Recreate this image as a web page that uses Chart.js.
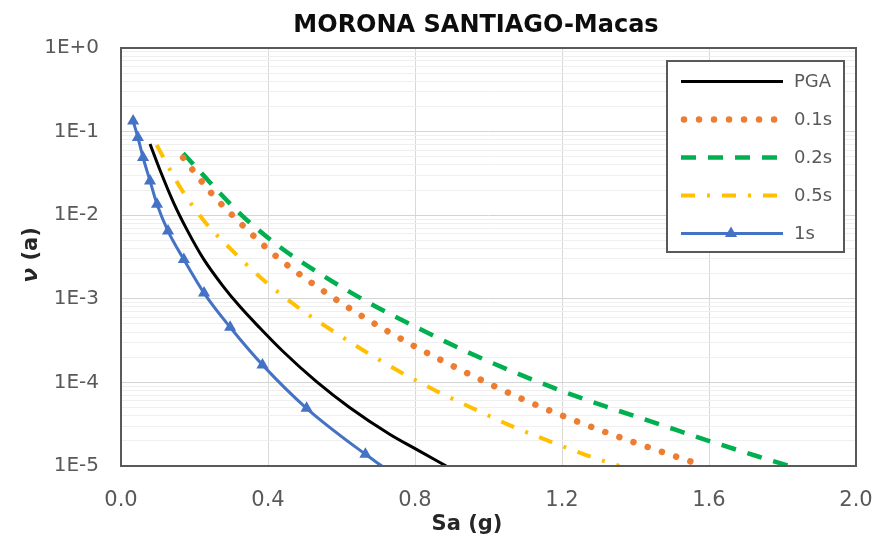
<!DOCTYPE html>
<html>
<head>
<meta charset="utf-8">
<script src="https://cdn.jsdelivr.net/npm/chart.js@4.4.1/dist/chart.umd.min.js"></script>
<style>
html,body{margin:0;padding:0;background:#fff}
</style>
</head>
<body>
<canvas class="myChart" width="876" height="539"></canvas>
<script>
const TITLE = 'MORONA SANTIAGO-Macas'
const xTicks = [0, 0.4, 0.8, 1.2, 1.6, 2.0]
const yDecades = [1e-5, 1e-4, 1e-3, 1e-2, 1e-1, 1]
const yTickLabels = ['1E-5', '1E-4', '1E-3', '1E-2', '1E-1', '1E+0']
const seriesNames = ['PGA', '0.1s', '0.2s', '0.5s', '1s']

// Sa (g) / annual rate
const pgaSa = [0.079, 0.106, 0.142, 0.179, 0.224, 0.278, 0.323, 0.378, 0.441, 0.532, 0.622, 0.731, 0.804, 0.885]
const pgaRate = [0.071, 0.0347, 0.01445, 0.00676, 0.00302, 0.00141, 0.000813, 0.000447, 0.000234, 0.000102, 5.01e-5, 2.4e-5, 1.58e-5, 1e-5]

const t01Sa = [0.169, 0.246, 0.331, 0.419, 0.518, 0.654, 0.794, 0.939, 1.086, 1.236, 1.389, 1.543, 1.587]
const t01Rate = [0.0487, 0.0183, 0.00757, 0.00331, 0.00156, 0.000628, 0.000278, 0.000131, 6.5e-5, 3.48e-5, 1.97e-5, 1.16e-5, 1e-5]

const t02Sa = [0.169, 0.328, 0.437, 0.554, 0.677, 0.804, 0.930, 1.062, 1.193, 1.329, 1.465, 1.601, 1.736, 1.818]
const t02Rate = [0.055, 0.01005, 0.00402, 0.00184, 0.000883, 0.000456, 0.000245, 0.000137, 8.1e-5, 4.98e-5, 3.15e-5, 1.99e-5, 1.29e-5, 1e-5]

const t05Sa = [0.097, 0.160, 0.224, 0.301, 0.382, 0.473, 0.563, 0.658, 0.754, 0.858, 0.954, 1.052, 1.157, 1.264, 1.356]
const t05Rate = [0.069, 0.0219, 0.00877, 0.00384, 0.00176, 0.000843, 0.000451, 0.000244, 0.000138, 7.9e-5, 4.98e-5, 3.15e-5, 2.05e-5, 1.36e-5, 1e-5]

const t1Sa = [0.033, 0.046, 0.060, 0.079, 0.098, 0.128, 0.171, 0.226, 0.297, 0.385, 0.505, 0.665, 0.71]
const t1Rate = [0.134, 0.085, 0.049, 0.0257, 0.0135, 0.00646, 0.00295, 0.00117, 0.000457, 0.000162, 4.9e-5, 1.38e-5, 1e-5]

const toPoints = (xs, ys) => xs.map((x, i) => ({x: x, y: ys[i]}))

const isDecade = (v) => yDecades.some(d => Math.abs(d - v) / d < 1e-6)

// all log gridlines: decades plus 2..9 inside each decade
const yGridValues = []
yDecades.forEach((d, i) => {
    yGridValues.push(d)
    if (i < yDecades.length - 1) {
        for (let k = 2; k <= 9; k++) yGridValues.push(d * k)
    }
})

const FONT = "'DejaVu Sans', sans-serif"
const GREY = '#595959'

const titlesPlugin = {
    id: 'titles',
    afterDraw(chart) {
        const ctx = chart.ctx
        ctx.save()
        ctx.fillStyle = '#0d0d0d'
        ctx.font = "bold 24px " + FONT
        ctx.textAlign = 'center'
        ctx.textBaseline = 'alphabetic'
        ctx.fillText(TITLE, 476, 32)

        ctx.fillStyle = '#262626'
        ctx.font = "bold 21px " + FONT
        ctx.fillText('Sa (g)', 467, 530)

        // y title, rotated, nu in italic
        ctx.translate(37, 255)
        ctx.rotate(-Math.PI / 2)
        ctx.textAlign = 'left'
        const nu = 'ν'
        const rest = ' (a)'
        ctx.font = "italic bold 22px " + FONT
        const w1 = ctx.measureText(nu).width
        ctx.font = "bold 21px " + FONT
        const w2 = ctx.measureText(rest).width
        const start = -(w1 + w2) / 2
        ctx.font = "italic bold 22px " + FONT
        ctx.fillText(nu, start, 0)
        ctx.font = "bold 21px " + FONT
        ctx.fillText(rest, start + w1, 0)
        ctx.restore()
    }
}

const framePlugin = {
    id: 'frame',
    afterDatasetsDraw(chart) {
        const a = chart.chartArea
        const ctx = chart.ctx
        ctx.save()
        ctx.strokeStyle = GREY
        ctx.lineWidth = 2
        ctx.strokeRect(a.left, a.top, a.right - a.left, a.bottom - a.top)
        ctx.restore()
    }
}

const legendPlugin = {
    id: 'boxLegend',
    afterDraw(chart) {
        const ctx = chart.ctx
        const left = 667, top = 61, right = 844, bottom = 252
        ctx.save()
        ctx.fillStyle = '#fff'
        ctx.fillRect(left, top, right - left, bottom - top)
        ctx.strokeStyle = GREY
        ctx.lineWidth = 2
        ctx.strokeRect(left, top, right - left, bottom - top)
        chart.data.datasets.forEach((ds, i) => {
            const y = 81.5 + i * 38
            ctx.save()
            ctx.strokeStyle = ds.borderColor
            ctx.lineWidth = ds.borderWidth
            ctx.lineCap = ds.borderCapStyle || 'butt'
            ctx.setLineDash(ds.borderDash || [])
            ctx.beginPath()
            ctx.moveTo(ds.legendStart || 681, y)
            ctx.lineTo(783, y)
            ctx.stroke()
            ctx.restore()
            if (ds.pointStyle === 'triangle') {
                const cx = 731, r = 7
                ctx.fillStyle = ds.borderColor
                ctx.beginPath()
                ctx.moveTo(cx, y - r)
                ctx.lineTo(cx + r * 0.866, y + r * 0.5)
                ctx.lineTo(cx - r * 0.866, y + r * 0.5)
                ctx.closePath()
                ctx.fill()
            }
            ctx.fillStyle = GREY
            ctx.font = "18px " + FONT
            ctx.textAlign = 'left'
            ctx.textBaseline = 'middle'
            ctx.fillText(ds.label, 794, y + 1)
        })
        ctx.restore()
    }
}

const datasets = [
    {
        label: seriesNames[0],
        data: toPoints(pgaSa, pgaRate),
        borderColor: '#000000',
        borderWidth: 3,
        pointRadius: 0
    },
    {
        label: seriesNames[1],
        data: toPoints(t01Sa, t01Rate),
        borderColor: '#ED7D31',
        borderWidth: 6.5,
        borderDash: [0.01, 15],
        borderCapStyle: 'round',
        legendStart: 684,
        pointRadius: 0
    },
    {
        label: seriesNames[2],
        data: toPoints(t02Sa, t02Rate),
        borderColor: '#00B050',
        borderWidth: 4.5,
        borderDash: [15, 12],
        pointRadius: 0
    },
    {
        label: seriesNames[3],
        data: toPoints(t05Sa, t05Rate),
        borderColor: '#FFC000',
        borderWidth: 4,
        borderDash: [14, 12, 3, 12],
        pointRadius: 0
    },
    {
        label: seriesNames[4],
        data: toPoints(t1Sa, t1Rate),
        borderColor: '#4472C4',
        backgroundColor: '#4472C4',
        borderWidth: 3,
        pointStyle: 'triangle',
        pointRadius: (c) => c.dataIndex === t1Sa.length - 1 ? 0 : 7,
        pointBorderWidth: 0
    }
]

const config = {
    type: 'line',
    data: {datasets: datasets},
    plugins: [titlesPlugin, framePlugin, legendPlugin],
    options: {
        responsive: false,
        animation: false,
        layout: {padding: {top: 48, right: 20, left: 0, bottom: 0}},
        plugins: {
            legend: {display: false},
            title: {display: false},
            tooltip: {enabled: false}
        },
        elements: {line: {cubicInterpolationMode: 'monotone'}},
        scales: {
            x: {
                type: 'linear',
                min: 0,
                max: 2,
                afterBuildTicks: (scale) => { scale.ticks = xTicks.map(v => ({value: v})) },
                afterFit: (scale) => {
                    scale.height = 73
                    scale.paddingLeft = 0
                    scale.paddingRight = 0
                },
                border: {display: false},
                grid: {color: '#d9d9d9', lineWidth: 1, drawTicks: false},
                ticks: {
                    color: GREY,
                    font: {family: FONT, size: 21},
                    padding: 22,
                    maxRotation: 0,
                    callback: (v) => Number(v).toFixed(1)
                }
            },
            y: {
                type: 'logarithmic',
                min: 1e-5,
                max: 1,
                afterBuildTicks: (scale) => {
                    scale.ticks = yGridValues.map(v => ({value: v, major: isDecade(v)}))
                },
                afterFit: (scale) => { scale.width = 121 },
                border: {display: false},
                grid: {
                    drawTicks: false,
                    lineWidth: 1,
                    color: (c) => (c.tick && isDecade(c.tick.value)) ? '#d4d4d4' : '#efefef'
                },
                ticks: {
                    color: GREY,
                    font: {family: FONT, size: 20},
                    padding: 22,
                    autoSkip: false,
                    callback: (v) => {
                        const i = yDecades.findIndex(d => Math.abs(d - v) / d < 1e-6)
                        return i >= 0 ? yTickLabels[i] : ''
                    }
                }
            }
        }
    }
}

const chrt = document.querySelector('.myChart').getContext('2d')
new Chart(chrt, config)
</script>
</body>
</html>
